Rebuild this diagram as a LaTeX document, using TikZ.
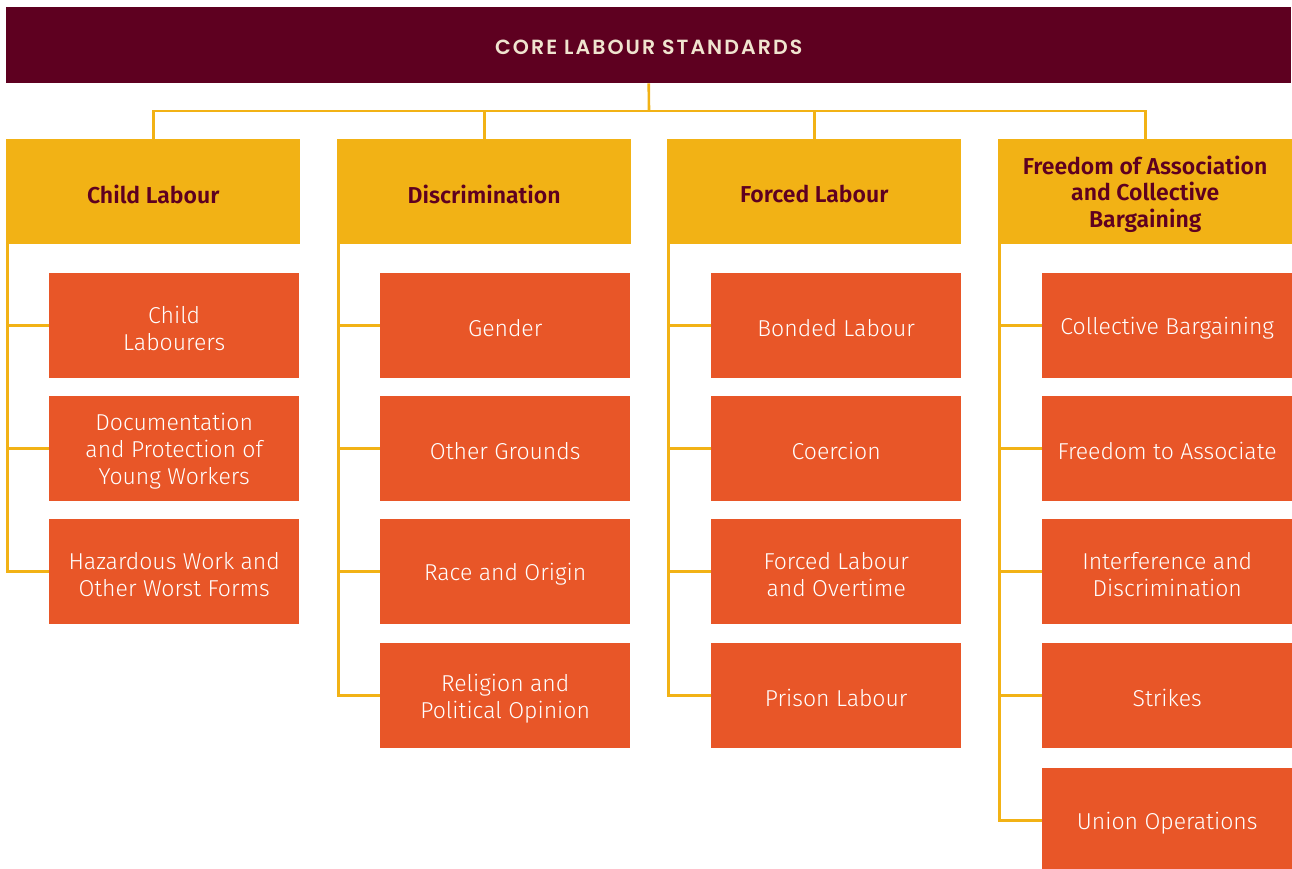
\documentclass[tikz,border=0pt]{standalone}
\usepackage{fontspec}
\setmainfont{Fira Sans}[UprightFont={* Light}, BoldFont={* SemiBold}]
\newfontfamily\titlefont{Poppins SemiBold}[LetterSpace=10]
\definecolor{maroon}{HTML}{5E0020}
\definecolor{gold}{HTML}{F2B215}
\definecolor{tang}{HTML}{E85628}
\definecolor{cream}{HTML}{F0E4CF}
\begin{document}
\begin{tikzpicture}[x=1pt,y=-1pt,
  titlebox/.style={fill=maroon, minimum width=1285pt, minimum height=76pt, anchor=north west, inner sep=0pt},
  titletext/.style={text=cream, font=\fontsize{20.5}{23}\titlefont, inner sep=0pt, text depth=0pt, yshift=-2pt},
  catbox/.style={fill=gold, minimum width=294pt, minimum height=105pt, anchor=north west, inner sep=0pt},
  cattext/.style={text=maroon, font=\fontsize{23}{26.5}\selectfont\bfseries, align=center, inner sep=0pt, yshift=-2.5pt},
  itembox/.style={fill=tang, minimum width=250pt, minimum height=105pt, anchor=north west, inner sep=0pt},
  itemtext/.style={text=white, font=\fontsize{23}{27}\selectfont, align=center, inner sep=0pt, yshift=-2.5pt},
  conn/.style={draw=gold, line width=2.6pt}]
\useasboundingbox (0,0) rectangle (1292,868);
\node[titlebox, label={[titletext, name=titlet]center:CORE LABOUR STANDARDS}] (title) at (6,7) {};
\node[catbox, label={[cattext, name=cat1t]center:Child Labour}] (cat1) at (6,139) {};
\node[catbox, label={[cattext, name=cat2t]center:Discrimination}] (cat2) at (337,139) {};
\node[catbox, label={[cattext, name=cat3t]center:Forced Labour}] (cat3) at (667,139) {};
\node[catbox, label={[cattext, name=cat4t]center:Freedom of Association\\and Collective\\Bargaining}] (cat4) at (998,139) {};
% column 1
\node[itembox, label={[itemtext, name=a1t]center:Child\\Labourers}] (a1) at (49,273) {};
\node[itembox, label={[itemtext, name=a2t]center:Documentation\\and Protection of\\Young Workers}] (a2) at (49,396) {};
\node[itembox, label={[itemtext, name=a3t]center:Hazardous Work and\\Other Worst Forms}] (a3) at (49,519) {};
% column 2
\node[itembox, label={[itemtext, name=b1t]center:Gender}] (b1) at (380,273) {};
\node[itembox, label={[itemtext, name=b2t]center:Other Grounds}] (b2) at (380,396) {};
\node[itembox, label={[itemtext, name=b3t]center:Race and Origin}] (b3) at (380,519) {};
\node[itembox, label={[itemtext, name=b4t]center:Religion and\\Political Opinion}] (b4) at (380,643) {};
% column 3
\node[itembox, label={[itemtext, name=c1t]center:Bonded Labour}] (c1) at (711,273) {};
\node[itembox, label={[itemtext, name=c2t]center:Coercion}] (c2) at (711,396) {};
\node[itembox, label={[itemtext, name=c3t]center:Forced Labour\\and Overtime}] (c3) at (711,519) {};
\node[itembox, label={[itemtext, name=c4t]center:Prison Labour}] (c4) at (711,643) {};
% column 4
\node[itembox, label={[itemtext, name=d1t]center:Collective Bargaining}] (d1) at (1042,273) {};
\node[itembox, label={[itemtext, name=d2t]center:Freedom to Associate}] (d2) at (1042,396) {};
\node[itembox, label={[itemtext, name=d3t]center:Interference and\\Discrimination}] (d3) at (1042,519) {};
\node[itembox, label={[itemtext, name=d4t]center:Strikes}] (d4) at (1042,643) {};
\node[itembox, label={[itemtext, name=d5t]center:Union Operations}] (d5) at (1042,768) {};
% top connectors
\coordinate (bus) at (649,111);
\draw[conn] (title.south) -- (bus);
\draw[conn] (cat1.north) |- (bus) -| (cat4.north);
\draw[conn] (cat2.north) -- (cat2.north |- bus);
\draw[conn] (cat3.north) -- (cat3.north |- bus);
% side connectors
\draw[conn] ([xshift=1.5pt]cat1.south west) |- (a3.west);
\draw[conn] ([xshift=1.5pt]cat1.south west |- a1.west) -- (a1.west);
\draw[conn] ([xshift=1.5pt]cat1.south west |- a2.west) -- (a2.west);
\draw[conn] ([xshift=1.5pt]cat2.south west) |- (b4.west);
\draw[conn] ([xshift=1.5pt]cat2.south west |- b1.west) -- (b1.west);
\draw[conn] ([xshift=1.5pt]cat2.south west |- b2.west) -- (b2.west);
\draw[conn] ([xshift=1.5pt]cat2.south west |- b3.west) -- (b3.west);
\draw[conn] ([xshift=1.5pt]cat3.south west) |- (c4.west);
\draw[conn] ([xshift=1.5pt]cat3.south west |- c1.west) -- (c1.west);
\draw[conn] ([xshift=1.5pt]cat3.south west |- c2.west) -- (c2.west);
\draw[conn] ([xshift=1.5pt]cat3.south west |- c3.west) -- (c3.west);
\draw[conn] ([xshift=1.5pt]cat4.south west) |- (d5.west);
\draw[conn] ([xshift=1.5pt]cat4.south west |- d1.west) -- (d1.west);
\draw[conn] ([xshift=1.5pt]cat4.south west |- d2.west) -- (d2.west);
\draw[conn] ([xshift=1.5pt]cat4.south west |- d3.west) -- (d3.west);
\draw[conn] ([xshift=1.5pt]cat4.south west |- d4.west) -- (d4.west);
\end{tikzpicture}
\end{document}
